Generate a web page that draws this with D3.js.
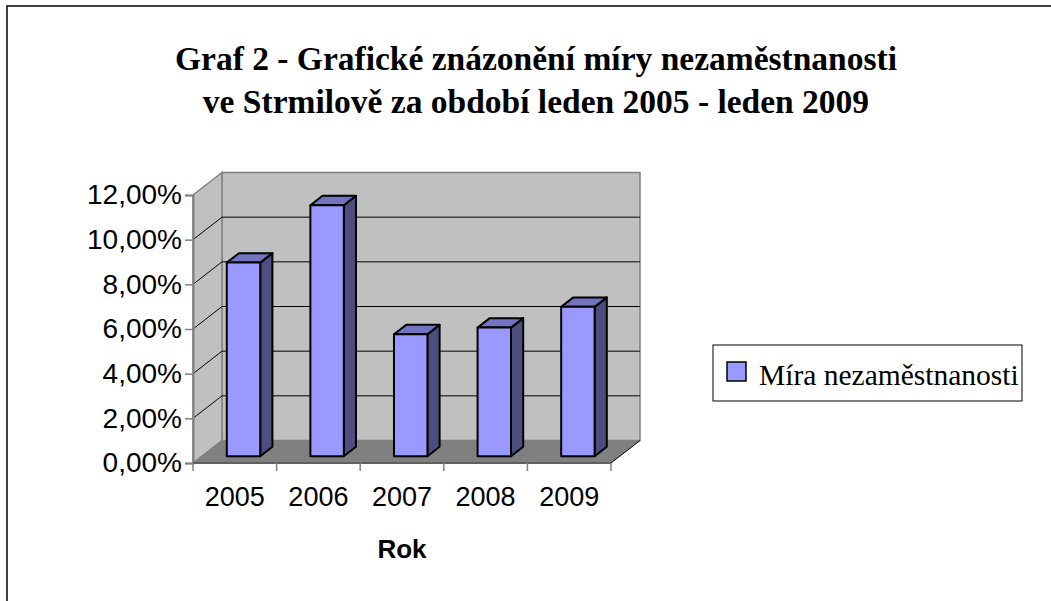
<!DOCTYPE html>
<html>
<head>
<meta charset="utf-8">
<script src="https://cdn.jsdelivr.net/npm/d3@7"></script>
<style>
  html, body { margin: 0; padding: 0; background: #fff; }
  svg { display: block; }
</style>
</head>
<body>
<svg id="chart" width="1051" height="601"></svg>
<script>
// Graf 2 — míra nezaměstnanosti ve Strmilově, 3D sloupcový graf

const years = ["2005", "2006", "2007", "2008", "2009"];
const rates = [0.0867, 0.1124, 0.0546, 0.0576, 0.0669];
const yTicks = [0, 0.02, 0.04, 0.06, 0.08, 0.10, 0.12];
const titleLines = [
    "Graf 2 - Grafické znázonění míry nezaměstnanosti",
    "ve Strmilově za období leden 2005 - leden 2009"
];
const seriesName = "Míra nezaměstnanosti";
const axisTitle = "Rok";

const svg = d3.select("#chart");

const cz = d3.formatLocale({ decimal: ",", thousands: " ", grouping: [3], currency: ["", " Kč"] });
const pct = cz.format(".2%");

// plot geometry (front plane) + depth offset of the back wall
const DX = 29, DY = 22.5;
const x = d3.scaleBand().domain(years).range([193, 611]).paddingInner(0.6).paddingOuter(0.3);
const y = d3.scaleLinear().domain([0, 0.12]).range([463, 195]);
const f0 = 0.3, f1 = 0.72;   // bar front / back depth fraction

const pts = arr => arr.map(p => p.join(",")).join(" ");

// outer frame (only left/top visible in the crop)
svg.append("rect")
    .attr("x", 7).attr("y", 6).attr("width", 1100).attr("height", 700)
    .attr("fill", "none").attr("stroke", "#000").attr("stroke-width", 1.5);

// title
svg.append("g").selectAll("text")
    .data(titleLines)
    .join("text")
    .attr("x", 536)
    .attr("y", (d, i) => 70 + i * 43)
    .attr("text-anchor", "middle")
    .attr("font-family", "'Liberation Serif', 'Times New Roman', serif")
    .attr("font-weight", "bold")
    .attr("font-size", 33.5)
    .text(d => d);

const y0 = y(0), yTop = y(0.12);
const xL = x.range()[0], xR = x.range()[1];

// walls
const walls = svg.append("g");
walls.append("polygon")
    .attr("points", pts([[xL + DX, yTop - DY], [xR + DX, yTop - DY], [xR + DX, y0 - DY], [xL + DX, y0 - DY]]))
    .attr("fill", "#c0c0c0").attr("stroke", "#808080").attr("stroke-width", 1.5);
walls.append("polygon")
    .attr("points", pts([[xL, yTop], [xL + DX, yTop - DY], [xL + DX, y0 - DY], [xL, y0]]))
    .attr("fill", "#c0c0c0").attr("stroke", "#808080").attr("stroke-width", 1.5);
walls.append("polygon")
    .attr("points", pts([[xL, y0], [xL + DX, y0 - DY], [xR + DX, y0 - DY], [xR, y0]]))
    .attr("fill", "#808080");
walls.append("line")
    .attr("x1", xR).attr("y1", y0).attr("x2", xR + DX).attr("y2", y0 - DY)
    .attr("stroke", "#000").attr("stroke-width", 1);

// gridlines on back and side wall
const grid = svg.append("g").attr("stroke", "#000").attr("stroke-width", 1);
const inner = yTicks.slice(1, -1);
grid.selectAll(".gb").data(inner).join("line")
    .attr("x1", xL + DX).attr("x2", xR + DX)
    .attr("y1", d => y(d) - DY).attr("y2", d => y(d) - DY);
grid.selectAll(".gs").data(inner).join("line")
    .attr("x1", xL).attr("x2", xL + DX)
    .attr("y1", d => y(d)).attr("y2", d => y(d) - DY);

// axes
const yAxis = svg.append("g")
    .attr("transform", `translate(${xL},0)`)
    .call(d3.axisLeft(y).tickValues(yTicks).tickSize(8).tickPadding(3).tickFormat(pct));
yAxis.select(".domain").attr("stroke", "#808080").attr("stroke-width", 2);
yAxis.selectAll(".tick line").attr("stroke", "#808080").attr("stroke-width", 1.5);
yAxis.selectAll("text")
    .attr("font-family", "Arial, 'Liberation Sans', sans-serif")
    .attr("font-size", 28).attr("fill", "#000");

const xAxis = svg.append("g").attr("transform", `translate(0,${y0})`);
xAxis.append("line")
    .attr("x1", xL).attr("x2", xR)
    .attr("stroke", "#606060").attr("stroke-width", 2);
const bounds = years.map(d => x(d) - x.step() * x.paddingInner() / 2).concat([xR]);
bounds[0] = xL;
xAxis.selectAll(".ct").data(bounds).join("line")
    .attr("x1", d => d).attr("x2", d => d)
    .attr("y1", 0).attr("y2", 8)
    .attr("stroke", "#808080").attr("stroke-width", 1.5);
xAxis.selectAll("text").data(years).join("text")
    .attr("x", d => x(d) + x.bandwidth() / 2)
    .attr("y", 43)
    .attr("text-anchor", "middle")
    .attr("font-family", "Arial, 'Liberation Sans', sans-serif")
    .attr("font-size", 27)
    .text(d => d);

svg.append("text")
    .attr("x", 402).attr("y", 558)
    .attr("text-anchor", "middle")
    .attr("font-family", "Arial, 'Liberation Sans', sans-serif")
    .attr("font-weight", "bold")
    .attr("font-size", 26)
    .text(axisTitle);

// bars
const ddx = (f1 - f0) * DX, ddy = (f1 - f0) * DY;
const bars = svg.append("g")
    .selectAll("g")
    .data(years.map((d, i) => ({ year: d, value: rates[i] })))
    .join("g")
    .attr("stroke", "#000").attr("stroke-width", 2).attr("stroke-linejoin", "round");

bars.each(function (d) {
    const g = d3.select(this);
    const a = x(d.year) + f0 * DX, b = a + x.bandwidth();
    const t = y(d.value) - f0 * DY, bot = y0 - f0 * DY;
    g.append("polygon").attr("fill", "#4d4d80")
        .attr("points", pts([[b, t], [b + ddx, t - ddy], [b + ddx, bot - ddy], [b, bot]]));
    g.append("polygon").attr("fill", "#7373bf")
        .attr("points", pts([[a, t], [b, t], [b + ddx, t - ddy], [a + ddx, t - ddy]]));
    g.append("polygon").attr("fill", "#9999ff")
        .attr("points", pts([[a, t], [b, t], [b, bot], [a, bot]]));
});

// legend
const legend = svg.append("g").attr("transform", "translate(713,345)");
legend.append("rect")
    .attr("width", 309).attr("height", 56)
    .attr("fill", "#fff").attr("stroke", "#000").attr("stroke-width", 1);
legend.append("rect")
    .attr("x", 14).attr("y", 17).attr("width", 19).attr("height", 19)
    .attr("fill", "#9999ff").attr("stroke", "#000").attr("stroke-width", 1.5);
legend.append("text")
    .attr("x", 46).attr("y", 40)
    .attr("font-family", "'Liberation Serif', 'Times New Roman', serif")
    .attr("font-size", 29.5)
    .text(seriesName);
</script>
</body>
</html>
